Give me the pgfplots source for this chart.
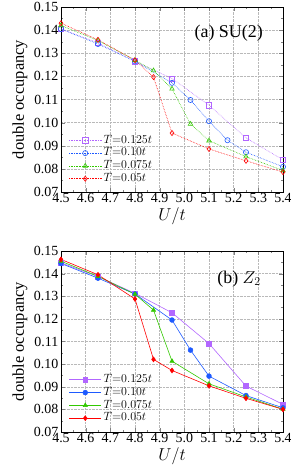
\documentclass[border=0pt]{standalone}
\usepackage{pgfplots}
\pgfplotsset{compat=1.18}
\usepackage{fontspec}
\setmainfont{Liberation Serif}
\definecolor{cpur}{RGB}{178,102,255}
\definecolor{cblu}{RGB}{30,90,255}
\definecolor{cgrn}{RGB}{50,200,0}
\definecolor{cred}{RGB}{255,0,0}
\pgfplotsset{
  base/.style={
    scale only axis, width=222bp, height=185bp,
    xmin=4.5, xmax=5.4, ymin=0.07, ymax=0.15,
    xtick={4.5,4.6,...,5.41},
    ytick={0.07,0.08,...,0.151},
    xticklabel style={/pgf/number format/fixed,/pgf/number format/precision=1,/pgf/number format/fixed zerofill},
    yticklabel style={/pgf/number format/fixed,/pgf/number format/precision=2,/pgf/number format/fixed zerofill},
    /pgf/number format/assume math mode=true,
    tick label style={font=\fontsize{14}{15}\selectfont},
    xticklabel style={yshift=0pt, inner sep=1pt},
    yticklabel style={xshift=-1.5pt, inner sep=1pt},
    label style={font=\fontsize{16.5}{17}\selectfont},
    xlabel={\fontsize{19}{20}\selectfont $U/t$},
    xlabel style={yshift=0pt},
    ylabel={double occupancy},
    ylabel style={yshift=2pt},
    tick align=inside, ticks=both, minor x tick num=1, minor y tick num=1,
    major tick length=4pt, minor tick length=2pt,
    grid=major, major grid style={gray!55, densely dotted},
    legend style={draw=none, fill=none, font=\fontsize{13}{13}\selectfont, inner sep=0pt, row sep=0pt, column sep=0pt,
      nodes={inner sep=0pt, text height=9.2bp, text depth=3.6bp, inner xsep=2bp}},
    legend cell align=left,
    legend image code/.code={\draw[mark repeat=2,mark phase=2] plot coordinates {(0bp,0bp) (16bp,0bp) (32bp,0bp)};},
  },
  open/.style={densely dotted, semithick, mark options={solid, fill=white, scale=1.3}},
  closed/.style={semithick, mark options={solid, scale=1.2}},
}
\begin{document}
\begin{tikzpicture}
\path[use as bounding box] (-61bp,7bp) rectangle (230bp,-469bp);
\begin{axis}[base, at={(0,0)}, anchor=north west,
  legend style={at={(0.035,0.315)}, anchor=north west}]
\addplot[open, cpur, mark=square] coordinates {(4.5,0.1405) (4.65,0.1345) (4.8,0.1265) (4.95,0.1191) (5.1,0.1075) (5.25,0.0934) (5.4,0.0839)};
\addlegendentry{$T{=}0.125t$}
\addplot[open, cblu, mark=o] coordinates {(4.5,0.1405) (4.65,0.134) (4.8,0.1265) (4.95,0.1172) (5.025,0.1098) (5.1,0.1006) (5.175,0.0924) (5.25,0.0872) (5.4,0.0809)};
\addlegendentry{$T{=}0.10t$}
\addplot[open, cgrn, mark=triangle] coordinates {(4.5,0.142) (4.65,0.1355) (4.8,0.127) (4.875,0.1225) (4.95,0.1146) (5.025,0.0994) (5.1,0.0922) (5.25,0.0853) (5.4,0.0793)};
\addlegendentry{$T{=}0.075t$}
\addplot[open, cred, mark=diamond] coordinates {(4.5,0.143) (4.65,0.1358) (4.8,0.127) (4.875,0.1197) (4.95,0.0955) (5.1,0.0886) (5.25,0.0835) (5.4,0.0786)};
\addlegendentry{$T{=}0.05t$}
\node[anchor=east, font=\fontsize{18}{19}\selectfont] at (rel axis cs:0.925,0.86) {(a) SU(2)};
\end{axis}
\begin{axis}[base, at={(0,-244bp)}, anchor=north west, height=181bp,
  legend style={at={(0.035,0.325)}, anchor=north west}]
\addplot[closed, cpur, mark=square*] coordinates {(4.5,0.1448) (4.65,0.1387) (4.8,0.1313) (4.95,0.1227) (5.1,0.1091) (5.25,0.0903) (5.4,0.0822)};
\addlegendentry{$T{=}0.125t$}
\addplot[closed, cblu, mark=*] coordinates {(4.5,0.1445) (4.65,0.138) (4.8,0.131) (4.95,0.1195) (5.025,0.1062) (5.1,0.0947) (5.25,0.0861) (5.4,0.0807)};
\addlegendentry{$T{=}0.10t$}
\addplot[closed, cgrn, mark=triangle*] coordinates {(4.5,0.1455) (4.65,0.1388) (4.8,0.1309) (4.875,0.1239) (4.95,0.1013) (5.1,0.0913) (5.25,0.0855) (5.4,0.0801)};
\addlegendentry{$T{=}0.075t$}
\addplot[closed, cred, mark=diamond*] coordinates {(4.5,0.1463) (4.65,0.1395) (4.8,0.1288) (4.875,0.1021) (4.95,0.0972) (5.1,0.0904) (5.25,0.0849) (5.4,0.080)};
\addlegendentry{$T{=}0.05t$}
\node[anchor=east, font=\fontsize{18}{19}\selectfont] at (rel axis cs:0.915,0.845) {(b) $Z_2$};
\end{axis}
\end{tikzpicture}
\end{document}
